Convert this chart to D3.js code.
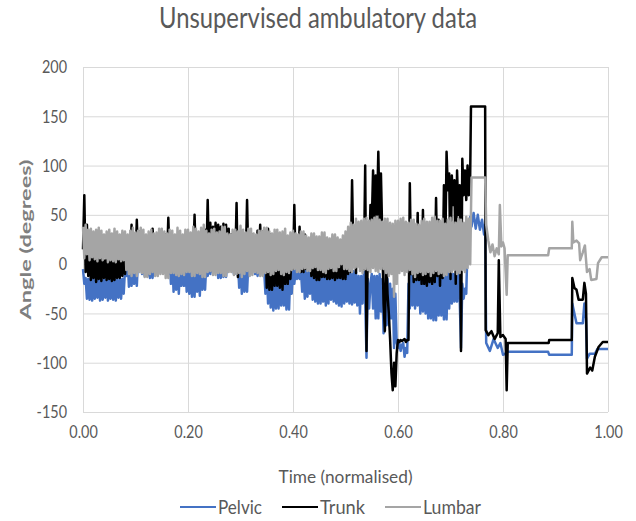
<!DOCTYPE html>
<html>
<head>
<meta charset="utf-8">
<script src="https://cdn.jsdelivr.net/npm/d3@7"></script>
<style>
  body { margin: 0; background: #fff; }
  svg text { font-family: Lato, "Open Sans", sans-serif; }
</style>
</head>
<body>
<svg width="636" height="521"></svg>
<script>
var xTicks = [0, 0.2, 0.4, 0.6, 0.8, 1.0];
var yTicks = [-150, -100, -50, 0, 50, 100, 150, 200];
var names = ["Pelvic", "Trunk", "Lumbar"];
var colors = ["#4472C4", "#000000", "#A5A5A5"];

// [time, angle]
var pelvic = [
  [0,-5],[0.0025,-20],[0.005,-14],[0.0075,-35],
  [0.01,-15],[0.0125,-36],[0.015,-13],[0.0175,-37],
  [0.02,-14],[0.0225,-35],[0.025,-16],[0.0275,-34],
  [0.03,-13],[0.0325,-37],[0.035,-15],[0.0375,-36],
  [0.04,-16],[0.0425,-34],[0.045,-14],[0.0475,-37],
  [0.05,-15],[0.0525,-35],[0.055,-13],[0.0575,-36],
  [0.06,-14],[0.0625,-37],[0.065,-16],[0.0675,-34],
  [0.07,-13],[0.0725,-35],[0.075,-15],[0.0775,-30],
  [0.08,-5],[0.0825,-12],[0.085,5],[0.0875,-23],
  [0.09,8],[0.0925,-22],[0.095,5],[0.0975,-20],
  [0.1,5],[0.1025,-22],[0.105,8],[0.1075,-6],
  [0.11,10],[0.1125,-10],[0.115,6],[0.1175,-12],
  [0.12,3],[0.1225,-12],[0.125,5],[0.1275,-14],
  [0.13,8],[0.1325,-14],[0.135,6],[0.1375,-4],
  [0.14,6],[0.1425,-6],[0.145,8],[0.1475,-8],
  [0.15,10],[0.1525,-8],[0.155,4],[0.1575,-5],
  [0.16,4],[0.1625,-10],[0.165,6],[0.1675,-20],
  [0.17,6],[0.1725,-28],[0.175,4],[0.1775,-26],
  [0.18,2],[0.1825,-30],[0.185,5],[0.1875,-22],
  [0.19,4],[0.1925,-22],[0.195,2],[0.1975,-28],
  [0.2,2],[0.2025,-30],[0.205,5],[0.2075,-33],
  [0.21,5],[0.2125,-33],[0.215,3],[0.2175,-28],
  [0.22,0],[0.2225,-32],[0.225,4],[0.2275,-26],
  [0.23,4],[0.2325,-26],[0.235,2],[0.2375,-12],
  [0.24,6],[0.2425,-10],[0.245,3],[0.2475,-8],
  [0.25,3],[0.2525,-8],[0.255,5],[0.2575,-14],
  [0.26,5],[0.2625,-14],[0.265,2],[0.2675,-13],
  [0.27,2],[0.2725,-13],[0.275,4],[0.2775,-6],
  [0.28,4],[0.2825,-6],[0.285,3],[0.2875,-10],
  [0.29,2],[0.2925,-10],[0.295,3],[0.2975,-24],
  [0.3,3],[0.3025,-30],[0.305,4],[0.3075,-28],
  [0.31,4],[0.3125,-28],[0.315,2],[0.3175,-8],
  [0.32,2],[0.3225,-6],[0.325,3],[0.3275,-10],
  [0.33,0],[0.3325,-12],[0.335,2],[0.3375,-8],
  [0.34,-2],[0.3425,-8],[0.345,-5],[0.3475,-30],
  [0.35,-5],[0.3525,-40],[0.355,-6],[0.3575,-44],
  [0.36,-8],[0.3625,-47],[0.365,-5],[0.3675,-45],
  [0.37,-10],[0.3725,-45],[0.375,-7],[0.3775,-42],
  [0.38,-6],[0.3825,-42],[0.385,-9],[0.3875,-46],
  [0.39,-8],[0.3925,-46],[0.395,-6],[0.3975,-30],
  [0.4,-4],[0.4025,-20],[0.405,-6],[0.4075,-15],
  [0.41,-6],[0.4125,-15],[0.415,-5],[0.4175,-28],
  [0.42,-8],[0.4225,-35],[0.425,-6],[0.4275,-33],
  [0.43,-5],[0.4325,-30],[0.435,-7],[0.4375,-36],
  [0.44,-9],[0.4425,-38],[0.445,-6],[0.4475,-40],
  [0.45,-6],[0.4525,-40],[0.455,-8],[0.4575,-38],
  [0.46,-10],[0.4625,-42],[0.465,-7],[0.4675,-40],
  [0.47,-7],[0.4725,-36],[0.475,-9],[0.4775,-38],
  [0.48,-5],[0.4825,-40],[0.485,-8],[0.4875,-42],
  [0.49,-9],[0.4925,-43],[0.495,-6],[0.4975,-40],
  [0.5,-6],[0.5025,-38],[0.505,-8],[0.5075,-40],
  [0.51,-10],[0.5125,-41],[0.515,-7],[0.5175,-39],
  [0.52,-8],[0.5225,-42],[0.525,-12],[0.5275,-50],
  [0.53,-12],[0.5325,-40],[0.535,-8],[0.5375,-35],
  [0.54,-95],[0.5425,-15],[0.545,-45],[0.5475,-20],
  [0.55,-10],[0.5525,-45],[0.555,-12],[0.5575,-55],
  [0.56,-12],[0.5625,-55],[0.565,-10],[0.5675,-48],
  [0.57,-15],[0.5725,-70],[0.575,-20],[0.5775,-62],
  [0.58,-15],[0.5825,-62],[0.585,-20],[0.5875,-55],
  [0.59,-25],[0.5925,-85],[0.595,-30],[0.5975,-80],
  [0.6,-85],[0.6025,-80],[0.605,-88],[0.6075,-82],
  [0.61,-80],[0.6125,-94],[0.615,-85],[0.6175,-90],
  [0.62,-20],[0.6225,-45],[0.625,-10],[0.6275,-42],
  [0.63,-12],[0.6325,-45],[0.635,-10],[0.6375,-42],
  [0.64,-15],[0.6425,-50],[0.645,-12],[0.6475,-48],
  [0.65,-12],[0.6525,-50],[0.655,-14],[0.6575,-55],
  [0.66,-14],[0.6625,-55],[0.665,-10],[0.6675,-57],
  [0.67,-10],[0.6725,-57],[0.675,-8],[0.6775,-52],
  [0.68,-8],[0.6825,-52],[0.685,-12],[0.6875,-56],
  [0.69,-12],[0.6925,-56],[0.695,-8],[0.6975,-45],
  [0.7,-6],[0.7025,-40],[0.705,-10],[0.7075,-38],
  [0.71,-10],[0.7125,-38],[0.715,-6],[0.7175,-35],
  [0.72,-85],[0.7225,-20],[0.725,-35],[0.7275,-25],
  [0.73,-30],[0.7325,20],[0.735,10],[0.7375,48],
  [0.74,38],[0.744,52],[0.748,36],[0.752,50],[0.756,35],[0.76,45],[0.764,30],[0.766,40],
  [0.768,-80],[0.775,-88],[0.782,-76],[0.79,-85],[0.795,-80],[0.8,-92],[0.807,-90],[0.809,-89],
  [0.886,-89],[0.888,-92],[0.931,-92],[0.932,-40],[0.936,-50],[0.94,-60],[0.952,-60],[0.955,-40],
  [0.958,-55],[0.96,-96],[0.965,-91],[0.975,-91],[0.98,-86],[1.0,-86]
];

var trunk = [
  [0,15],[0.0025,70],[0.005,-8],[0.0075,40],
  [0.01,-12],[0.0125,8],[0.015,-16],[0.0175,6],
  [0.02,-14],[0.0225,10],[0.025,-18],[0.0275,5],
  [0.03,-15],[0.0325,9],[0.035,-17],[0.0375,6],
  [0.04,-14],[0.0425,4],[0.045,-16],[0.0475,8],
  [0.05,-15],[0.0525,6],[0.055,-17],[0.0575,5],
  [0.06,-16],[0.0625,7],[0.065,-14],[0.0675,4],
  [0.07,-14],[0.0725,4],[0.075,-12],[0.0775,6],
  [0.08,-10],[0.0825,20],[0.085,0],[0.0875,28],
  [0.09,0],[0.0925,40],[0.095,2],[0.0975,30],
  [0.1,2],[0.1025,45],[0.105,5],[0.1075,33],
  [0.11,0],[0.1125,25],[0.115,3],[0.1175,20],
  [0.12,3],[0.1225,25],[0.125,6],[0.1275,30],
  [0.13,3],[0.1325,36],[0.135,12],[0.1375,28],
  [0.14,2],[0.1425,28],[0.145,4],[0.1475,24],
  [0.15,4],[0.1525,31],[0.155,3],[0.1575,30],
  [0.16,3],[0.1625,47],[0.165,5],[0.1675,22],
  [0.17,0],[0.1725,22],[0.175,2],[0.1775,27],
  [0.18,-3],[0.1825,27],[0.185,0],[0.1875,24],
  [0.19,2],[0.1925,24],[0.195,-2],[0.1975,28],
  [0.2,-2],[0.2025,28],[0.205,3],[0.2075,25],
  [0.21,5],[0.2125,50],[0.215,2],[0.2175,30],
  [0.22,-4],[0.2225,30],[0.225,0],[0.2275,35],
  [0.23,8],[0.2325,35],[0.235,6],[0.2375,65],
  [0.24,6],[0.2425,42],[0.245,8],[0.2475,38],
  [0.25,9],[0.2525,42],[0.255,7],[0.2575,40],
  [0.26,9],[0.2625,38],[0.265,5],[0.2675,41],
  [0.27,4],[0.2725,40],[0.275,2],[0.2775,36],
  [0.28,1],[0.2825,30],[0.285,0],[0.2875,28],
  [0.29,1],[0.2925,62],[0.295,-13],[0.2975,28],
  [0.3,2],[0.3025,28],[0.305,3],[0.3075,25],
  [0.31,3],[0.3125,65],[0.315,2],[0.3175,30],
  [0.32,-2],[0.3225,30],[0.325,0],[0.3275,26],
  [0.33,5],[0.3325,34],[0.335,3],[0.3375,40],
  [0.34,5],[0.3425,33],[0.345,2],[0.3475,30],
  [0.35,-24],[0.3525,36],[0.355,-26],[0.3575,30],
  [0.36,-26],[0.3625,20],[0.365,-22],[0.3675,28],
  [0.37,-22],[0.3725,25],[0.375,-24],[0.3775,22],
  [0.38,-26],[0.3825,15],[0.385,-20],[0.3875,18],
  [0.39,-20],[0.3925,10],[0.395,-15],[0.3975,12],
  [0.4,-5],[0.4025,60],[0.405,0],[0.4075,25],
  [0.41,0],[0.4125,38],[0.415,-8],[0.4175,30],
  [0.42,-8],[0.4225,30],[0.425,-5],[0.4275,20],
  [0.43,-5],[0.4325,22],[0.435,-12],[0.4375,18],
  [0.44,-14],[0.4425,24],[0.445,-16],[0.4475,15],
  [0.45,-16],[0.4525,15],[0.455,-13],[0.4575,20],
  [0.46,-13],[0.4625,18],[0.465,-15],[0.4675,12],
  [0.47,-15],[0.4725,10],[0.475,-14],[0.4775,15],
  [0.48,-16],[0.4825,14],[0.485,-14],[0.4875,18],
  [0.49,-14],[0.4925,20],[0.495,-15],[0.4975,15],
  [0.5,-15],[0.5025,25],[0.505,-10],[0.5075,20],
  [0.51,-8],[0.5125,85],[0.515,10],[0.5175,30],
  [0.52,-9],[0.5225,40],[0.525,0],[0.5275,35],
  [0.53,0],[0.5325,40],[0.535,-5],[0.5375,100],
  [0.54,-88],[0.5425,20],[0.545,5],[0.5475,60],
  [0.55,40],[0.5525,95],[0.555,45],[0.5575,90],
  [0.56,50],[0.5625,114],[0.565,45],[0.5675,92],
  [0.57,30],[0.5725,-40],[0.575,-68],[0.5775,10],
  [0.58,-30],[0.5825,-50],[0.585,-77],[0.5875,-110],
  [0.59,-128],[0.5925,-100],[0.595,-124],[0.5975,-90],
  [0.6,-77],[0.6025,-79],[0.605,-77],[0.6075,-78],
  [0.61,-77],[0.6125,-76],[0.615,-79],[0.6175,-77],
  [0.62,-77],[0.6225,82],[0.625,-10],[0.6275,20],
  [0.63,-18],[0.6325,30],[0.635,-16],[0.6375,52],
  [0.64,-16],[0.6425,25],[0.645,-20],[0.6475,55],
  [0.65,-20],[0.6525,30],[0.655,-22],[0.6575,25],
  [0.66,-18],[0.6625,35],[0.665,-20],[0.6675,28],
  [0.67,-18],[0.6725,67],[0.675,-12],[0.6775,45],
  [0.68,-22],[0.6825,40],[0.685,-14],[0.6875,80],
  [0.69,10],[0.6925,114],[0.695,75],[0.6975,92],
  [0.7,-15],[0.7025,90],[0.705,60],[0.7075,85],
  [0.71,-20],[0.7125,95],[0.715,50],[0.7175,80],
  [0.72,-88],[0.7225,107],[0.725,70],[0.7275,95],
  [0.73,65],[0.7325,100],[0.735,70],[0.7375,90],
  [0.739,160],[0.766,160],[0.767,-67],[0.772,-72],[0.778,-68],[0.784,-76],[0.79,-70],
  [0.792,4],[0.795,-74],[0.8,-72],[0.805,-76],[0.807,-128],[0.809,-80],[0.887,-80],[0.888,-77],[0.931,-77],[0.932,-14],
  [0.936,-24],[0.94,-26],[0.944,-36],[0.952,-36],[0.955,-19],[0.958,-30],[0.96,-111],[0.966,-105],[0.97,-108],[0.975,-94],
  [0.982,-84],[0.99,-79],[1.0,-79]
];

var lumbar = [
  [0,38],[0.0025,6],[0.005,40],[0.0075,10],
  [0.01,35],[0.0125,4],[0.015,36],[0.0175,7],
  [0.02,33],[0.0225,5],[0.025,35],[0.0275,3],
  [0.03,37],[0.0325,6],[0.035,34],[0.0375,4],
  [0.04,30],[0.0425,6],[0.045,33],[0.0475,2],
  [0.05,35],[0.0525,4],[0.055,31],[0.0575,3],
  [0.06,36],[0.0625,2],[0.065,33],[0.0675,5],
  [0.07,30],[0.0725,3],[0.075,34],[0.0775,4],
  [0.08,33],[0.0825,-6],[0.085,30],[0.0875,-10],
  [0.09,34],[0.0925,-12],[0.095,37],[0.0975,-9],
  [0.1,32],[0.1025,-12],[0.105,34],[0.1075,-8],
  [0.11,37],[0.1125,-9],[0.115,35],[0.1175,-13],
  [0.12,30],[0.1225,-13],[0.125,33],[0.1275,-10],
  [0.13,35],[0.1325,-8],[0.135,31],[0.1375,-12],
  [0.14,32],[0.1425,-12],[0.145,36],[0.1475,-10],
  [0.15,36],[0.1525,-10],[0.155,33],[0.1575,-14],
  [0.16,31],[0.1625,-14],[0.165,35],[0.1675,-9],
  [0.17,34],[0.1725,-9],[0.175,30],[0.1775,-11],
  [0.18,37],[0.1825,-12],[0.185,34],[0.1875,-10],
  [0.19,30],[0.1925,-11],[0.195,35],[0.1975,-8],
  [0.2,35],[0.2025,-8],[0.205,32],[0.2075,-12],
  [0.21,38],[0.2125,-12],[0.215,36],[0.2175,-9],
  [0.22,33],[0.2225,-10],[0.225,37],[0.2275,-13],
  [0.23,40],[0.2325,-13],[0.235,34],[0.2375,-8],
  [0.24,31],[0.2425,-7],[0.245,35],[0.2475,-11],
  [0.25,36],[0.2525,-11],[0.255,32],[0.2575,-9],
  [0.26,33],[0.2625,-9],[0.265,38],[0.2675,-12],
  [0.27,38],[0.2725,-12],[0.275,31],[0.2775,-8],
  [0.28,30],[0.2825,-8],[0.285,35],[0.2875,-11],
  [0.29,35],[0.2925,-10],[0.295,33],[0.2975,-9],
  [0.3,39],[0.3025,-13],[0.305,35],[0.3075,-10],
  [0.31,32],[0.3125,-7],[0.315,36],[0.3175,-12],
  [0.32,36],[0.3225,-11],[0.325,31],[0.3275,-8],
  [0.33,30],[0.3325,-9],[0.335,34],[0.3375,-12],
  [0.34,34],[0.3425,-12],[0.345,37],[0.3475,-9],
  [0.35,37],[0.3525,-8],[0.355,33],[0.3575,-11],
  [0.36,31],[0.3625,-10],[0.365,35],[0.3675,-7],
  [0.37,35],[0.3725,-6],[0.375,32],[0.3775,-10],
  [0.38,33],[0.3825,-11],[0.385,36],[0.3875,-8],
  [0.39,29],[0.3925,-9],[0.395,32],[0.3975,-6],
  [0.4,34],[0.4025,-5],[0.405,31],[0.4075,-8],
  [0.41,30],[0.4125,-8],[0.415,33],[0.4175,-5],
  [0.42,33],[0.4225,-4],[0.425,29],[0.4275,-7],
  [0.43,27],[0.4325,-7],[0.435,31],[0.4375,-4],
  [0.44,31],[0.4425,-3],[0.445,28],[0.4475,-6],
  [0.45,28],[0.4525,-6],[0.455,32],[0.4575,-8],
  [0.46,32],[0.4625,-9],[0.465,27],[0.4675,-5],
  [0.47,26],[0.4725,-4],[0.475,30],[0.4775,-7],
  [0.48,30],[0.4825,-7],[0.485,27],[0.4875,-3],
  [0.49,25],[0.4925,0],[0.495,29],[0.4975,-5],
  [0.5,33],[0.5025,-5],[0.505,38],[0.5075,-7],
  [0.51,42],[0.5125,-8],[0.515,40],[0.5175,-4],
  [0.52,46],[0.5225,-3],[0.525,43],[0.5275,-7],
  [0.53,44],[0.5325,-9],[0.535,46],[0.5375,-5],
  [0.54,47],[0.5425,-6],[0.545,44],[0.5475,-8],
  [0.55,45],[0.5525,-4],[0.555,47],[0.5575,-7],
  [0.56,48],[0.5625,-8],[0.565,45],[0.5675,-5],
  [0.57,43],[0.5725,-5],[0.575,46],[0.5775,-9],
  [0.58,46],[0.5825,-12],[0.585,42],[0.5875,-10],
  [0.59,41],[0.5925,-33],[0.595,44],[0.5975,-20],
  [0.6,44],[0.6025,-9],[0.605,46],[0.6075,-7],
  [0.61,47],[0.6125,-11],[0.615,43],[0.6175,-8],
  [0.62,42],[0.6225,-6],[0.625,45],[0.6275,-10],
  [0.63,45],[0.6325,-13],[0.635,41],[0.6375,-9],
  [0.64,40],[0.6425,-8],[0.645,44],[0.6475,-11],
  [0.65,46],[0.6525,-10],[0.655,43],[0.6575,-8],
  [0.66,43],[0.6625,-12],[0.665,47],[0.6675,-9],
  [0.67,48],[0.6725,-7],[0.675,44],[0.6775,-10],
  [0.68,44],[0.6825,-9],[0.685,46],[0.6875,-12],
  [0.69,41],[0.6925,-11],[0.695,45],[0.6975,-8],
  [0.7,47],[0.7025,-8],[0.705,43],[0.7075,-6],
  [0.71,42],[0.7125,-10],[0.715,46],[0.7175,-9],
  [0.72,45],[0.7225,-6],[0.725,42],[0.7275,-8],
  [0.73,48],[0.7325,-4],[0.735,46],[0.7375,0],
  [0.74,88],[0.766,88],
  [0.768,40],[0.772,24],[0.776,12],[0.78,20],[0.784,8],[0.788,16],[0.792,10],[0.794,60],[0.797,18],[0.8,22],
  [0.803,16],[0.807,-31],[0.809,9],[0.886,9],[0.888,16],[0.931,16],[0.932,43],[0.934,22],[0.94,24],[0.945,21],
  [0.947,4],[0.952,12],[0.956,19],[0.96,-8],[0.965,-5],[0.968,-16],[0.978,-15],[0.981,1],[0.988,7],[1.0,7]
];

var svg = d3.select("svg"),
    margin = {top: 67, right: 28, bottom: 109, left: 83},
    width = +svg.attr("width") - margin.left - margin.right,
    height = +svg.attr("height") - margin.top - margin.bottom;

var x = d3.scaleLinear().domain([0, 1]).range([0, width]);
var y = d3.scaleLinear().domain([-150, 200]).range([height, 0]);

var g = svg.append("g")
    .attr("transform", "translate(" + margin.left + "," + margin.top + ")");

// gridlines
g.append("g")
    .call(d3.axisLeft(y).tickValues(yTicks).tickSize(-width).tickFormat(""))
    .call(function(a) { a.select(".domain").remove(); })
    .selectAll("line").attr("stroke", "#d9d9d9");

g.append("g")
    .attr("transform", "translate(0," + height + ")")
    .call(d3.axisBottom(x).tickValues(xTicks).tickSize(-height).tickFormat(""))
    .call(function(a) { a.select(".domain").remove(); })
    .selectAll("line").attr("stroke", "#d9d9d9");

// tick labels
var yAxis = g.append("g")
    .call(d3.axisLeft(y).tickValues(yTicks).tickSize(0).tickFormat(function(d) { return String(d); }));
yAxis.select(".domain").remove();
yAxis.selectAll("text")
    .attr("x", 0)
    .attr("transform", "translate(-16,0) scale(0.8,1)")
    .style("font-size", "18px")
    .style("fill", "#595959");

var xAxis = g.append("g")
    .attr("transform", "translate(0," + height + ")")
    .call(d3.axisBottom(x).tickValues(xTicks).tickSize(0).tickFormat(d3.format(".2f")));
xAxis.select(".domain").remove();
xAxis.selectAll("text")
    .attr("y", 0)
    .attr("dy", 0)
    .attr("transform", "translate(0,26) scale(0.8,1)")
    .style("font-size", "18px")
    .style("fill", "#595959");

// series, pelvic first so lumbar ends up on top
var line = d3.line()
    .x(function(d) { return x(d[0]); })
    .y(function(d) { return y(d[1]); });

[pelvic, trunk, lumbar].forEach(function(data, i) {
  g.append("path")
      .datum(data)
      .attr("d", line)
      .attr("fill", "none")
      .attr("stroke", colors[i])
      .attr("stroke-width", 2.5)
      .attr("stroke-linejoin", "round");
});

// titles
svg.append("text")
    .attr("x", 318)
    .attr("y", 28)
    .attr("text-anchor", "middle")
    .attr("font-size", 28)
    .attr("textLength", 318)
    .attr("lengthAdjust", "spacingAndGlyphs")
    .attr("fill", "#595959")
    .text("Unsupervised ambulatory data");

svg.append("text")
    .attr("x", margin.left + width / 2)
    .attr("y", 483)
    .attr("text-anchor", "middle")
    .attr("font-size", 17)
    .attr("textLength", 134)
    .attr("lengthAdjust", "spacingAndGlyphs")
    .attr("fill", "#595959")
    .text("Time (normalised)");

svg.append("text")
    .attr("transform", "translate(31," + (margin.top + height / 2) + ") rotate(-90)")
    .attr("text-anchor", "middle")
    .attr("font-size", 16)
    .attr("font-weight", "bold")
    .attr("textLength", 160)
    .attr("lengthAdjust", "spacingAndGlyphs")
    .attr("fill", "#7f7f7f")
    .text("Angle (degrees)");

// legend
var legendWidths = [44, 45, 58];
var lx = 180;
names.forEach(function(name, i) {
  svg.append("line")
      .attr("x1", lx).attr("x2", lx + 36)
      .attr("y1", 507).attr("y2", 507)
      .attr("stroke", colors[i])
      .attr("stroke-width", 2);
  svg.append("text")
      .attr("x", lx + 38)
      .attr("y", 514)
      .attr("font-size", 19)
      .attr("textLength", legendWidths[i])
      .attr("lengthAdjust", "spacingAndGlyphs")
      .attr("fill", "#595959")
      .text(name);
  lx += 38 + legendWidths[i] + 20;
});
</script>
</body>
</html>
